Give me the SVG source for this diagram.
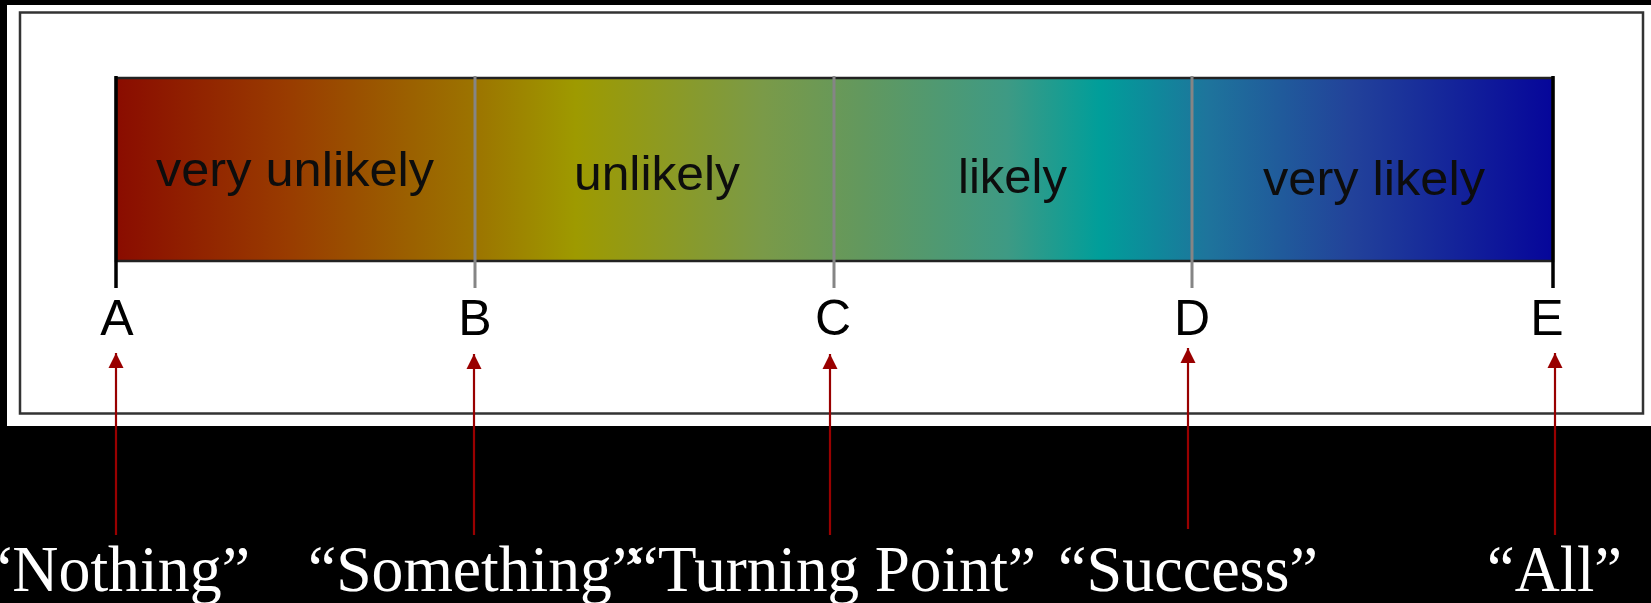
<svg xmlns="http://www.w3.org/2000/svg" width="1651" height="603" viewBox="0 0 1651 603">
<defs>
<linearGradient id="scale" x1="116" y1="0" x2="1553" y2="0" gradientUnits="userSpaceOnUse">
<stop offset="0" stop-color="#8a0c00"/>
<stop offset="0.12" stop-color="#993c00"/>
<stop offset="0.25" stop-color="#9c7400"/>
<stop offset="0.32" stop-color="#9e9a00"/>
<stop offset="0.45" stop-color="#7a9a48"/>
<stop offset="0.52" stop-color="#62985e"/>
<stop offset="0.62" stop-color="#3e9a84"/>
<stop offset="0.685" stop-color="#009e9a"/>
<stop offset="0.76" stop-color="#1e749c"/>
<stop offset="0.86" stop-color="#22429a"/>
<stop offset="1" stop-color="#06069a"/>
</linearGradient>
<marker id="arrow" markerUnits="userSpaceOnUse" markerWidth="16" markerHeight="16" viewBox="0 0 16 16" refX="15" refY="8" orient="auto">
<path d="M0,0.5 L15,8 L0,15.5 Z" fill="#990000"/>
</marker>
<style>
.seg{font-family:"Liberation Sans",Arial,sans-serif;font-size:48px;fill:#0d0d0d;}
.pt{font-family:"Liberation Sans",Arial,sans-serif;font-size:50px;fill:#000;text-anchor:middle;}
.lbl{font-family:"Liberation Serif","Times New Roman",serif;font-size:66px;fill:#fff;}
.conn{stroke:#990000;stroke-width:2.2;fill:none;marker-end:url(#arrow);}
.tick{stroke:#858585;stroke-width:3;}
.edge{stroke:#000;stroke-width:3.5;}
</style>
</defs>
<rect x="0" y="0" width="1651" height="603" fill="#000"/>
<rect x="7" y="5" width="1644" height="421" fill="#fff"/>
<rect x="20" y="12.5" width="1623" height="401" fill="none" stroke="#333" stroke-width="2.5"/>
<g id="bar">
<rect x="116" y="78" width="1437" height="183" fill="url(#scale)" stroke="#222" stroke-width="2.5"/>
<line class="edge" x1="116" y1="76" x2="116" y2="288"/>
<line class="edge" x1="1553" y1="76" x2="1553" y2="288"/>
<line class="tick" x1="475" y1="76" x2="475" y2="288"/>
<line class="tick" x1="834" y1="76" x2="834" y2="288"/>
<line class="tick" x1="1192" y1="76" x2="1192" y2="288"/>
</g>
<g id="seg-very-unlikely"><text class="seg" x="156" y="186" textLength="278" lengthAdjust="spacingAndGlyphs">very unlikely</text></g>
<g id="seg-unlikely"><text class="seg" x="574" y="190" textLength="166" lengthAdjust="spacingAndGlyphs">unlikely</text></g>
<g id="seg-likely"><text class="seg" x="958" y="193" textLength="109" lengthAdjust="spacingAndGlyphs">likely</text></g>
<g id="seg-very-likely"><text class="seg" x="1263" y="195" textLength="222" lengthAdjust="spacingAndGlyphs">very likely</text></g>
<g id="point-A"><text class="pt" x="117" y="335">A</text></g>
<g id="point-B"><text class="pt" x="475" y="335">B</text></g>
<g id="point-C"><text class="pt" x="833" y="335">C</text></g>
<g id="point-D"><text class="pt" x="1192" y="335">D</text></g>
<g id="point-E"><text class="pt" x="1547" y="335">E</text></g>
<g id="connectors">
<line class="conn" x1="116" y1="535" x2="116" y2="353"/>
<line class="conn" x1="474" y1="535" x2="474" y2="354"/>
<line class="conn" x1="830" y1="535" x2="830" y2="354"/>
<line class="conn" x1="1188" y1="529" x2="1188" y2="348"/>
<line class="conn" x1="1555" y1="535" x2="1555" y2="353"/>
</g>
<g id="label-nothing"><text class="lbl" x="-16" y="591" textLength="266" lengthAdjust="spacingAndGlyphs">“Nothing”</text></g>
<g id="label-something"><text class="lbl" x="308" y="591" textLength="332" lengthAdjust="spacingAndGlyphs">“Something”</text></g>
<g id="label-turning"><text class="lbl" x="630" y="591" textLength="406" lengthAdjust="spacingAndGlyphs">“Turning Point”</text></g>
<g id="label-success"><text class="lbl" x="1058" y="591" textLength="260" lengthAdjust="spacingAndGlyphs">“Success”</text></g>
<g id="label-all"><text class="lbl" x="1487" y="591" textLength="135" lengthAdjust="spacingAndGlyphs">“All”</text></g>
</svg>
